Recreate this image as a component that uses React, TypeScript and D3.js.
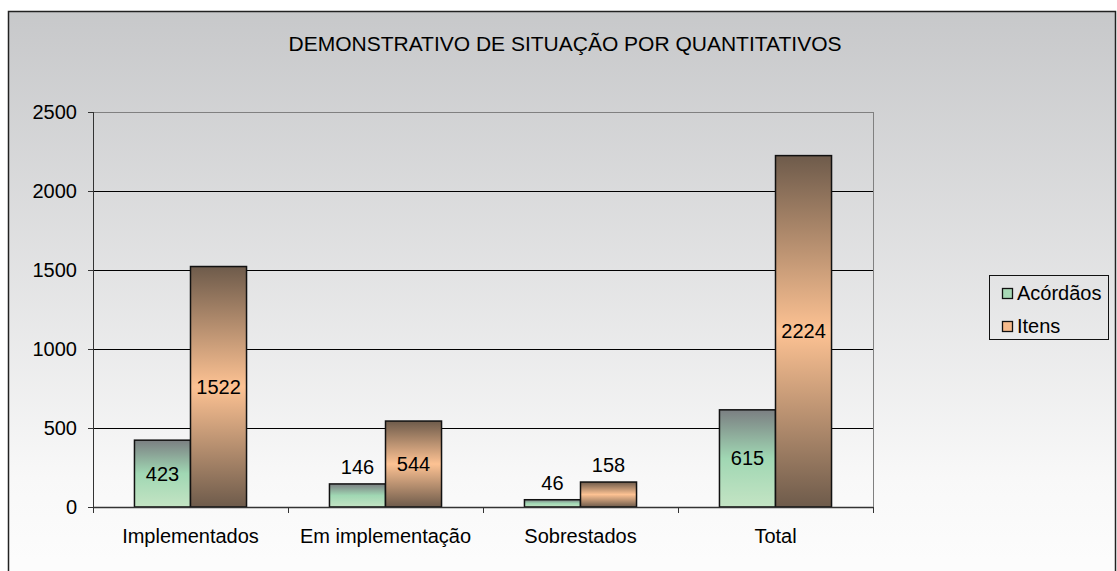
import React from "react";
import * as d3 from "d3";

const categories = ["Implementados", "Em implementação", "Sobrestados", "Total"];
const seriesNames = ["Acórdãos", "Itens"];
const acordaos = [423, 146, 46, 615];
const itens = [1522, 544, 158, 2224];
const yTicks = [0, 500, 1000, 1500, 2000, 2500];
const title = "DEMONSTRATIVO DE SITUAÇÃO POR QUANTITATIVOS";

const W = 1117;
const H = 571;
const FONT = "'Liberation Sans', Arial, sans-serif";

export default function App() {
  const plot = { left: 93, right: 873, top: 112, bottom: 507 };
  const x0 = d3.scaleBand<string>().domain(categories).range([plot.left, plot.right]).paddingInner(0).paddingOuter(0);
  const x1 = d3.scaleBand<string>().domain(seriesNames).range([0, x0.bandwidth()]).paddingInner(0).paddingOuter(0.74);
  const y = d3.scaleLinear().domain([0, 2500]).range([plot.bottom, plot.top]);
  const values = [acordaos, itens];
  const fills = ["url(#gA)", "url(#gI)"];
  const swatch = ["#a8d9b6", "#f7bb8c"];
  const fs = 20;

  return (
    <svg width={W} height={H} style={{ position: "absolute", left: 0, top: 0, display: "block" }} fontFamily={FONT}>
      <defs>
        <linearGradient id="bgU" x1="0" y1="11" x2="0" y2="560" gradientUnits="userSpaceOnUse">
          <stop offset="0" stopColor="#c7c8ca" />
          <stop offset="0.85" stopColor="#f8f8f8" />
          <stop offset="1" stopColor="#fcfcfc" />
        </linearGradient>
        <linearGradient id="gA" x1="0" y1="0" x2="0" y2="1">
          <stop offset="0" stopColor="#7b7f82" />
          <stop offset="0.5" stopColor="#a0d7b3" />
          <stop offset="1" stopColor="#c4e4c4" />
        </linearGradient>
        <linearGradient id="gI" x1="0" y1="0" x2="0" y2="1">
          <stop offset="0" stopColor="#6e5b4b" />
          <stop offset="0.5" stopColor="#fdc293" />
          <stop offset="1" stopColor="#6e5b4b" />
        </linearGradient>
      </defs>
      <rect x={8.5} y={11.5} width={1107} height={580} fill="url(#bgU)" stroke="#222" strokeWidth={1.5} />
      <text x={565} y={51} textAnchor="middle" fontSize={21} fill="#000">{title}</text>

      {/* gridlines */}
      {yTicks.filter(t => t > 0).map(t => (
        <line key={t} x1={plot.left} x2={plot.right} y1={y(t) + 0.5} y2={y(t) + 0.5} stroke={t === 2500 ? "#808080" : "#000"} strokeWidth={1} />
      ))}
      <line x1={plot.right + 0.5} x2={plot.right + 0.5} y1={plot.top} y2={plot.bottom} stroke="#808080" />

      {/* bars */}
      {categories.map((c, i) => (
        <g key={c} transform={`translate(${x0(c)},0)`}>
          {seriesNames.map((s, j) => {
            const v = values[j][i];
            const bx = x1(s)!;
            const bw = x1.bandwidth();
            const top = y(v);
            const h = y(0) - top;
            const inside = h > 30;
            return (
              <g key={s}>
                <rect x={bx} y={top} width={bw} height={h} fill={fills[j]} stroke="#111" strokeWidth={1.5} />
                <text x={bx + bw / 2} y={inside ? top + h / 2 + 7 : top - 10} textAnchor="middle" fontSize={fs} fill="#000">{v}</text>
              </g>
            );
          })}
        </g>
      ))}

      {/* axes */}
      <line x1={plot.left + 0.5} x2={plot.left + 0.5} y1={plot.top} y2={plot.bottom} stroke="#333" strokeWidth={1} />
      <line x1={plot.left} x2={plot.right} y1={plot.bottom + 0.5} y2={plot.bottom + 0.5} stroke="#333" strokeWidth={1.5} />
      {yTicks.map(t => (
        <g key={t}>
          <line x1={plot.left - 5} x2={plot.left} y1={y(t) + 0.5} y2={y(t) + 0.5} stroke="#333" />
          <text x={77} y={y(t) + 7} textAnchor="end" fontSize={fs} fill="#000">{t}</text>
        </g>
      ))}
      {[...categories.map(c => x0(c)!), plot.right].map((xv, i) => (
        <line key={i} x1={xv + 0.5} x2={xv + 0.5} y1={plot.bottom} y2={plot.bottom + 6} stroke="#333" />
      ))}
      {categories.map(c => (
        <text key={c} x={x0(c)! + x0.bandwidth() / 2} y={543} textAnchor="middle" fontSize={fs} fill="#000">{c}</text>
      ))}

      {/* legend */}
      <rect x={989.5} y={275.5} width={119} height={64} fill="none" stroke="#111" strokeWidth={1} />
      {seriesNames.map((s, j) => (
        <g key={s} transform={`translate(1002, ${288 + j * 33})`}>
          <rect x={0.5} y={0.5} width={10} height={10} fill={swatch[j]} stroke="#111" strokeWidth={1.3} />
          <text x={15} y={12} fontSize={fs} fill="#000">{s}</text>
        </g>
      ))}
    </svg>
  );
}
